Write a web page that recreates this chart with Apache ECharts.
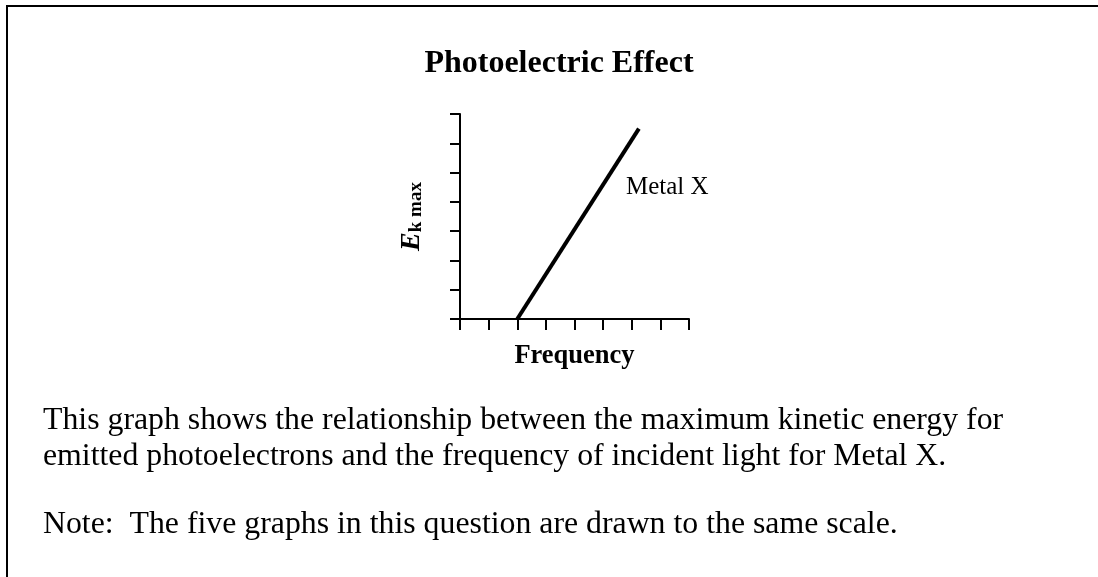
<!DOCTYPE html>
<html>
<head>
<meta charset="utf-8">
<script src="https://cdn.jsdelivr.net/npm/echarts@6/dist/echarts.min.js"></script>
<style>
  html, body { margin: 0; padding: 0; background: #fff; }
  #chart { width: 1098px; height: 577px; }
</style>
</head>
<body>
<div id="chart"></div>
<script>
// Metal X: maximum kinetic energy against frequency (arbitrary grid units)
const frequencyTicks = [0, 1, 2, 3, 4, 5, 6, 7, 8];
const energyTicks = [0, 1, 2, 3, 4, 5, 6, 7];
const metalXFrequency = [2, 6.25];
const metalXEnergy = [0, 6.5];

const titleText = 'Photoelectric Effect';
const seriesName = 'Metal X';
const captionLines = [
  'This graph shows the relationship between the maximum kinetic energy for',
  'emitted photoelectrons and the frequency of incident light for Metal X.'
];
const noteText = 'Note:  The five graphs in this question are drawn to the same scale.';

const serif = '"Liberation Serif", "Times New Roman", serif';

const chart = echarts.init(document.getElementById('chart'), null, { renderer: 'canvas' });

const lineData = metalXFrequency.map((f, i) => [f, metalXEnergy[i]]);

const axisStyle = { lineStyle: { color: '#000', width: 2 } };

chart.setOption({
  backgroundColor: '#fff',
  animation: false,
  textStyle: { fontFamily: serif, color: '#000' },
  title: {
    text: titleText,
    left: 554,
    top: 43,
    textAlign: 'center',
    textStyle: { fontFamily: serif, fontWeight: 'bold', fontSize: 32, color: '#000' }
  },
  grid: { left: 460, top: 114, width: 229, height: 205, containLabel: false },
  xAxis: {
    type: 'value',
    min: frequencyTicks[0],
    max: frequencyTicks[frequencyTicks.length - 1],
    interval: 1,
    name: 'Frequency',
    nameLocation: 'middle',
    nameGap: 24,
    nameTextStyle: { fontFamily: serif, fontWeight: 'bold', fontSize: 26.5, color: '#000', verticalAlign: 'top' },
    axisLine: { show: true, onZero: false, ...axisStyle },
    axisTick: { show: true, inside: false, length: 11, lineStyle: { color: '#000', width: 2 } },
    axisLabel: { show: false },
    splitLine: { show: false }
  },
  yAxis: {
    type: 'value',
    min: energyTicks[0],
    max: energyTicks[energyTicks.length - 1],
    interval: 1,
    name: '{e|E}{sub|k max}',
    nameLocation: 'middle',
    nameRotate: 90,
    nameGap: 34,
    nameTextStyle: {
      rich: {
        e: { fontFamily: serif, fontStyle: 'italic', fontWeight: 'bold', fontSize: 28, color: '#000', lineHeight: 30, verticalAlign: 'bottom' },
        sub: { fontFamily: serif, fontWeight: 'bold', fontSize: 19, color: '#000', lineHeight: 14, verticalAlign: 'bottom' }
      }
    },
    axisLine: { show: true, onZero: false, ...axisStyle },
    axisTick: { show: true, inside: false, length: 10, lineStyle: { color: '#000', width: 2 } },
    axisLabel: { show: false },
    splitLine: { show: false }
  },
  series: [{
    name: seriesName,
    type: 'line',
    data: lineData,
    showSymbol: false,
    symbol: 'none',
    clip: false,
    lineStyle: { color: '#000', width: 4, cap: 'butt' }
  }],
  graphic: [
    {
      type: 'rect',
      shape: { x: 7, y: 6, width: 1200, height: 700 },
      style: { fill: 'none', stroke: '#000', lineWidth: 2 },
      silent: true
    },
    {
      type: 'text',
      left: 626,
      top: 175,
      style: { text: seriesName, font: '25px ' + serif, fill: '#000' }
    },
    {
      type: 'text',
      left: 43,
      top: 403,
      style: { text: captionLines.join('\n'), font: '31.8px ' + serif, fill: '#000', lineHeight: 36 }
    },
    {
      type: 'text',
      left: 43,
      top: 507,
      style: { text: noteText, font: '31.8px ' + serif, fill: '#000', lineHeight: 36 }
    }
  ]
});
</script>
</body>
</html>
